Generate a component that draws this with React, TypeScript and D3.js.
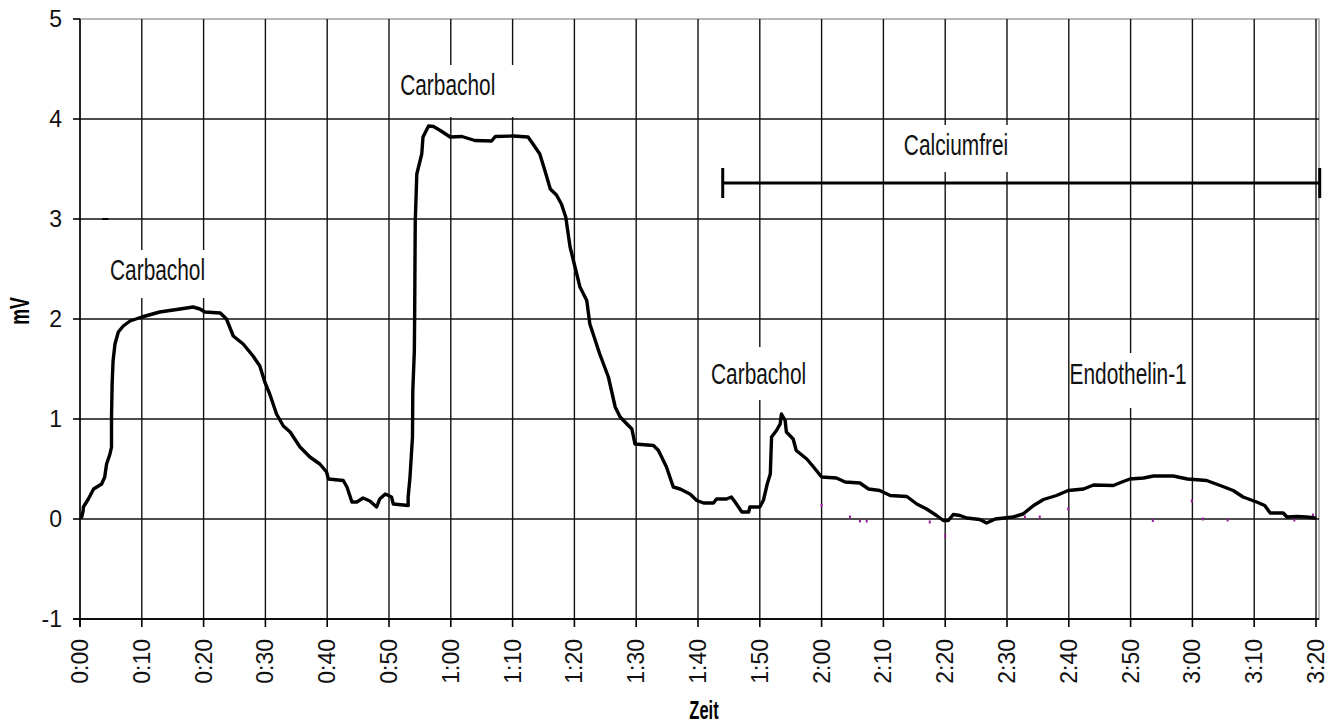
import React, { useEffect, useRef } from "react";
import * as d3 from "d3";

const WIDTH = 1336;
const HEIGHT = 724;

// Recording trace: time in minutes, tension signal in mV
const traceMinutes = [
  0.27, 0.5, 0.55, 1.35, 2.2, 3.5, 4.0, 4.3, 4.85, 5.1, 5.1, 5.2, 5.35, 5.66, 6.2, 7.0, 8.1, 10.0,
  12.9, 16.2, 18.3, 19.4, 20.2, 22.7, 23.7, 24.8, 26.4, 28.0, 29.1, 29.9, 30.7, 31.8, 32.9, 34.0,
  35.6, 37.2, 38.8, 39.9, 40.2, 42.6, 43.2, 44.0, 44.8, 45.8, 46.9, 48.0, 48.5, 49.4, 50.4, 50.7,
  53.1, 53.1, 53.4, 53.8, 53.85, 54.1, 54.15, 54.2, 54.25, 54.5, 55.3, 55.5, 56.4, 57.2, 58.3,
  59.9, 61.8, 63.9, 66.6, 67.2, 70.1, 72.5, 73.3, 74.4, 75.2, 76.1, 77.1, 77.9, 78.6, 79.3, 80.1,
  80.9, 82.0, 82.5, 84.1, 85.5, 86.6, 87.4, 88.5, 89.3, 89.8, 92.8, 93.6, 94.9, 96.0, 97.1, 98.7,
  99.8, 100.9, 102.5, 103.0, 104.6, 105.4, 106.0, 107.1, 108.2, 108.4, 110.0, 110.6, 111.2, 111.7,
  111.9, 112.7, 113.3, 113.5, 114.1, 114.3, 115.4, 115.9, 117.6, 118.7, 120.0, 122.4, 123.8, 126.2,
  127.6, 129.4, 131.1, 133.8, 135.4, 137.0, 138.6, 139.7, 140.5, 141.3, 142.4, 143.5, 145.6, 146.7,
  148.1, 151.0, 152.6, 154.3, 155.9, 158.0, 159.9, 162.4, 164.0, 167.2, 168.6, 169.9, 172.1, 173.7,
  176.9, 179.2, 182.3, 184.5, 186.6, 188.2, 190.4, 191.7, 192.6, 194.7, 195.3, 196.9, 198.5, 199.8,
];
const traceMv = [
  0.02, 0.08, 0.12, 0.2, 0.3, 0.35, 0.42, 0.55, 0.65, 0.72, 1.02, 1.35, 1.58, 1.75, 1.87, 1.93, 1.98, 2.02,
  2.07, 2.1, 2.12, 2.1, 2.07, 2.06, 2.0, 1.83, 1.75, 1.63, 1.53, 1.37, 1.25, 1.05, 0.93, 0.87,
  0.72, 0.62, 0.55, 0.47, 0.4, 0.385, 0.32, 0.17, 0.17, 0.21, 0.18, 0.12, 0.2, 0.25, 0.22, 0.15,
  0.135, 0.22, 0.42, 0.82, 1.28, 1.68, 2.02, 2.52, 2.98, 3.45, 3.65, 3.82, 3.93, 3.925, 3.885,
  3.82, 3.825, 3.785, 3.78, 3.825, 3.83, 3.82, 3.75, 3.65, 3.49, 3.3, 3.24, 3.15, 3.02, 2.72, 2.52,
  2.32, 2.185, 1.95, 1.65, 1.42, 1.12, 1.02, 0.95, 0.9, 0.75, 0.735, 0.685, 0.52, 0.32, 0.3, 0.25,
  0.185, 0.16, 0.16, 0.2, 0.2, 0.22, 0.17, 0.07, 0.07, 0.12, 0.12, 0.19, 0.35, 0.45,
  0.82, 0.885, 0.95, 1.05, 0.985, 0.87, 0.8, 0.685, 0.6, 0.52, 0.42, 0.41, 0.37, 0.36,
  0.3, 0.285, 0.235, 0.225, 0.15, 0.1, 0.035, -0.015, -0.015, 0.045, 0.035, 0.01, -0.005, -0.04,
  0.0, 0.02, 0.05, 0.135, 0.195, 0.235, 0.285, 0.3, 0.34, 0.335, 0.37, 0.4, 0.41, 0.43,
  0.43, 0.4, 0.385, 0.335, 0.285, 0.22, 0.17, 0.135, 0.06, 0.06, 0.02, 0.025, 0.02, 0.01,
];

// Isolated samples of the raw (unfiltered) channel
const rawSpeckMinutes = [120.0, 124.6, 126.2, 127.3, 137.5, 140.0, 151.0, 152.9, 155.3, 159.9, 173.6, 179.9, 181.7, 185.7, 196.5, 199.5];
const rawSpeckMv = [0.135, 0.02, -0.02, -0.02, -0.03, -0.17, 0.02, 0.02, 0.02, 0.1, -0.015, 0.18, 0.0, -0.01, -0.01, 0.04];

// Stray sample near 3 mV at the start of the record
const strayStart = 3.6;
const strayEnd = 4.6;
const strayMv = 3.0;

// Axis ticks
const xTickMinutes = [0, 10, 20, 30, 40, 50, 60, 70, 80, 90, 100, 110, 120, 130, 140, 150, 160, 170, 180, 190, 200];
const xTickLabels = ["0:00", "0:10", "0:20", "0:30", "0:40", "0:50", "1:00", "1:10", "1:20", "1:30", "1:40", "1:50", "2:00", "2:10", "2:20", "2:30", "2:40", "2:50", "3:00", "3:10", "3:20"];
const yTicks = [-1, 0, 1, 2, 3, 4, 5];
const yTickLabels = ["-1", "0", "1", "2", "3", "4", "5"];

// Annotations: label text, anchor (minute, mV baseline), white box extents
const noteText = ["Carbachol", "Carbachol", "Carbachol", "Endothelin-1", "Calciumfrei"];
const noteMinute = [12.55, 59.5, 109.8, 169.6, 141.75];
const noteMv = [2.39, 4.24, 1.35, 1.35, 3.64];
const noteBoxLeft = [3.5, 51.0, 100.8, 160.5, 132.7];
const noteBoxRight = [22.0, 71.2, 118.9, 179.3, 150.8];
const noteBoxTop = [2.69, 4.54, 1.72, 1.66, 3.94];
const noteBoxBottom = [2.21, 4.02, 1.19, 1.11, 3.47];

// Calcium-free period marker
const calciumStart = 104.0;
const calciumEnd = 200.6;
const calciumMv = 3.36;
const calciumCapMv = 0.15;

const FONT = "'Liberation Sans', Arial, Helvetica, sans-serif";

export default function App() {
  const ref = useRef<SVGSVGElement | null>(null);

  useEffect(() => {
    const svg = d3.select(ref.current);
    svg.selectAll("*").remove();

    const left = 80;
    const right = 1316;
    const top = 19;
    const bottom = 619;

    const x = d3.scaleLinear().domain([0, 200]).range([left, right]);
    const y = d3.scaleLinear().domain([-1, 5]).range([bottom, top]);

    svg.append("rect").attr("width", WIDTH).attr("height", HEIGHT).attr("fill", "#fff");

    // plot area border (gray)
    svg
      .append("rect")
      .attr("x", left)
      .attr("y", top)
      .attr("width", right + 3 - left)
      .attr("height", bottom - top)
      .attr("fill", "none")
      .attr("stroke", "#9a9a9a")
      .attr("stroke-width", 1.4);

    const grid = svg.append("g").attr("stroke", "#111").attr("stroke-width", 1.4);
    // horizontal gridlines
    grid
      .selectAll("line.h")
      .data(yTicks.filter((t) => t < 5))
      .join("line")
      .attr("x1", left)
      .attr("x2", right + 3)
      .attr("y1", (d) => y(d))
      .attr("y2", (d) => y(d));
    // vertical gridlines
    grid
      .selectAll("line.v")
      .data(xTickMinutes.filter((t) => t > 0))
      .join("line")
      .attr("x1", (d) => x(d))
      .attr("x2", (d) => x(d))
      .attr("y1", top)
      .attr("y2", bottom);

    // axes
    const axes = svg.append("g").attr("stroke", "#000").attr("stroke-width", 1.6);
    axes.append("line").attr("x1", left).attr("x2", left).attr("y1", top).attr("y2", bottom + 8);
    axes.append("line").attr("x1", left - 7).attr("x2", right + 3).attr("y1", bottom).attr("y2", bottom);
    axes
      .selectAll("line.yt")
      .data(yTicks)
      .join("line")
      .attr("x1", left - 7)
      .attr("x2", left)
      .attr("y1", (d) => y(d))
      .attr("y2", (d) => y(d));
    axes
      .selectAll("line.xt")
      .data(xTickMinutes)
      .join("line")
      .attr("x1", (d) => x(d))
      .attr("x2", (d) => x(d))
      .attr("y1", bottom)
      .attr("y2", bottom + 8);

    // tick labels
    svg
      .append("g")
      .selectAll("text")
      .data(yTicks)
      .join("text")
      .attr("x", left - 18)
      .attr("y", (d) => y(d))
      .attr("dy", "0.35em")
      .attr("text-anchor", "end")
      .attr("font-family", FONT)
      .attr("font-size", 23)
      .attr("fill", "#111")
      .text((_, i) => yTickLabels[i]);

    svg
      .append("g")
      .selectAll("text")
      .data(xTickMinutes)
      .join("text")
      .attr("transform", (d) => `translate(${x(d)},${bottom + 20}) rotate(-90)`)
      .attr("dy", "0.35em")
      .attr("text-anchor", "end")
      .attr("font-family", FONT)
      .attr("font-size", 23)
      .attr("fill", "#111")
      .text((_, i) => xTickLabels[i]);

    // axis titles
    svg
      .append("text")
      .attr("transform", `translate(20,311) rotate(-90) scale(0.66,1)`)
      .attr("dy", "0.35em")
      .attr("text-anchor", "middle")
      .attr("font-family", FONT)
      .attr("font-weight", "bold")
      .attr("font-size", 27)
      .attr("fill", "#000")
      .text("mV");
    svg
      .append("text")
      .attr("transform", `translate(704,719) scale(0.66,1)`)
      .attr("text-anchor", "middle")
      .attr("font-family", FONT)
      .attr("font-weight", "bold")
      .attr("font-size", 25)
      .attr("fill", "#000")
      .text("Zeit");

    // annotation boxes and labels
    const notes = svg.append("g");
    noteText.forEach((t, i) => {
      notes
        .append("rect")
        .attr("x", x(noteBoxLeft[i]))
        .attr("y", y(noteBoxTop[i]))
        .attr("width", x(noteBoxRight[i]) - x(noteBoxLeft[i]))
        .attr("height", y(noteBoxBottom[i]) - y(noteBoxTop[i]))
        .attr("fill", "#fff");
      notes
        .append("text")
        .attr("transform", `translate(${x(noteMinute[i])},${y(noteMv[i])}) scale(0.72,1)`)
        .attr("text-anchor", "middle")
        .attr("font-family", FONT)
        .attr("font-size", 29)
        .attr("fill", "#111")
        .text(t);
    });

    // raw channel specks
    svg
      .append("g")
      .attr("fill", "#9b1f9b")
      .selectAll("rect")
      .data(rawSpeckMinutes)
      .join("rect")
      .attr("x", (d) => x(d) - 1)
      .attr("y", (_, i) => y(rawSpeckMv[i]) - 1.5)
      .attr("width", 2)
      .attr("height", 3);

    // stray sample
    svg
      .append("line")
      .attr("x1", x(strayStart))
      .attr("x2", x(strayEnd))
      .attr("y1", y(strayMv))
      .attr("y2", y(strayMv))
      .attr("stroke", "#000")
      .attr("stroke-width", 2);

    // trace
    const pts: [number, number][] = traceMinutes.map((m, i) => [m, traceMv[i]]);
    const line = d3
      .line<[number, number]>()
      .x((d) => x(d[0]))
      .y((d) => y(d[1]));
    svg
      .append("path")
      .attr("d", line(pts) || "")
      .attr("fill", "none")
      .attr("stroke", "#000")
      .attr("stroke-width", 3.4)
      .attr("stroke-linejoin", "round")
      .attr("stroke-linecap", "round");

    // calcium-free period bar
    const bar = svg.append("g").attr("stroke", "#000").attr("stroke-width", 3);
    bar
      .append("line")
      .attr("x1", x(calciumStart))
      .attr("x2", x(calciumEnd))
      .attr("y1", y(calciumMv))
      .attr("y2", y(calciumMv));
    [calciumStart, calciumEnd].forEach((m) => {
      bar
        .append("line")
        .attr("x1", x(m))
        .attr("x2", x(m))
        .attr("y1", y(calciumMv + calciumCapMv))
        .attr("y2", y(calciumMv - calciumCapMv));
    });
  }, []);

  return (
    <svg
      ref={ref}
      width={WIDTH}
      height={HEIGHT}
      style={{ position: "absolute", left: 0, top: 0, display: "block" }}
    />
  );
}
